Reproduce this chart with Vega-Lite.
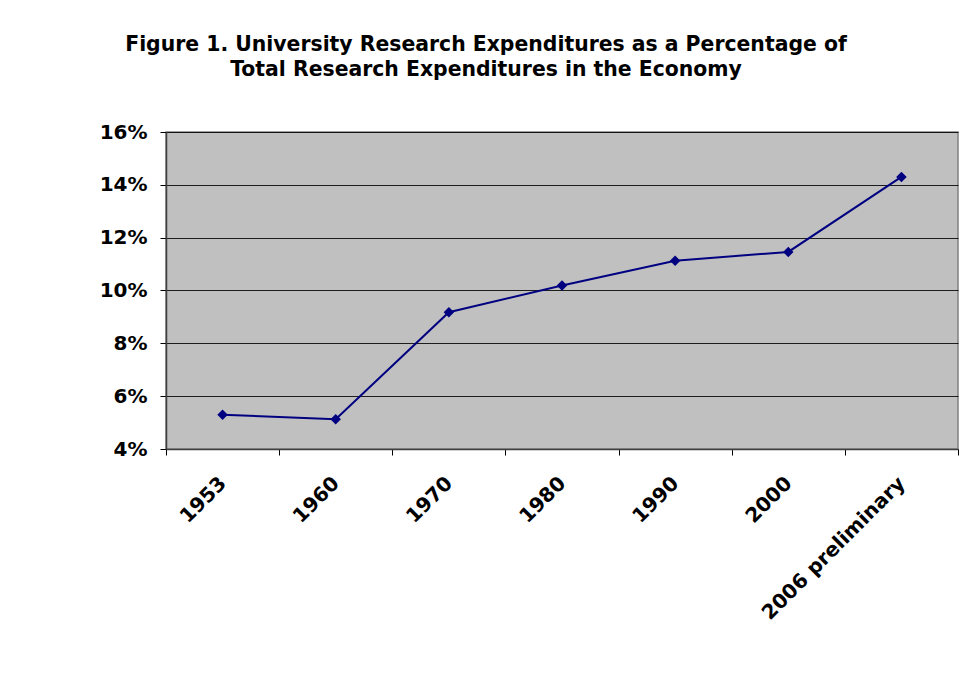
{
  "$schema": "https://vega.github.io/schema/vega-lite/v6.json",
  "autosize": "none",
  "width": 792,
  "height": 317,
  "padding": {"left": 166, "top": 132, "right": 11, "bottom": 228},
  "background": "white",
  "title": {
    "text": ["Figure 1. University Research Expenditures as a Percentage of", "Total Research Expenditures in the Economy"],
    "font": "DejaVu Sans",
    "fontSize": 20.4,
    "fontWeight": "bold",
    "color": "#000000",
    "anchor": "middle",
    "frame": "group",
    "dx": -76,
    "offset": 42,
    "lineHeight": 25
  },
  "data": {
    "values": [
      {"year": "1953", "share": 0.0530},
      {"year": "1960", "share": 0.0513},
      {"year": "1970", "share": 0.0918},
      {"year": "1980", "share": 0.1019},
      {"year": "1990", "share": 0.1113},
      {"year": "2000", "share": 0.1146},
      {"year": "2006 preliminary", "share": 0.1430}
    ]
  },
  "encoding": {
    "x": {
      "field": "year",
      "type": "nominal",
      "sort": null,
      "scale": {"paddingInner": 0, "paddingOuter": 0},
      "axis": {
        "title": null,
        "tickBand": "extent",
        "labelAngle": -45,
        "labelAlign": "right",
        "labelBaseline": "middle",
        "labelPadding": 25,
        "labelLimit": 400,
        "labelFont": "DejaVu Sans",
        "labelFontSize": 20,
        "labelFontWeight": "bold",
        "labelColor": "#000000",
        "tickSize": 6,
        "tickColor": "#000000",
        "domainColor": "#404040",
        "domainWidth": 1.5,
        "grid": false
      }
    },
    "y": {
      "field": "share",
      "type": "quantitative",
      "scale": {"domain": [0.04, 0.16], "nice": false, "zero": false},
      "axis": {
        "title": null,
        "values": [0.04, 0.06, 0.08, 0.10, 0.12, 0.14, 0.16],
        "format": ".0%",
        "labelFont": "DejaVu Sans",
        "labelFontSize": 20,
        "labelFontWeight": "bold",
        "labelColor": "#000000",
        "labelPadding": 13,
        "tickSize": 6,
        "tickColor": "#000000",
        "domainColor": "#404040",
        "domainWidth": 1.5,
        "grid": true,
        "gridColor": "#000000",
        "gridWidth": 1,
        "gridOpacity": 0.85
      }
    }
  },
  "layer": [
    {"mark": {"type": "line", "color": "#000080", "strokeWidth": 2}},
    {"mark": {"type": "point", "shape": "diamond", "filled": true, "color": "#000080", "size": 110, "opacity": 1}}
  ],
  "config": {
    "view": {"fill": "#C0C0C0", "stroke": "#808080", "strokeWidth": 1.5}
  }
}
